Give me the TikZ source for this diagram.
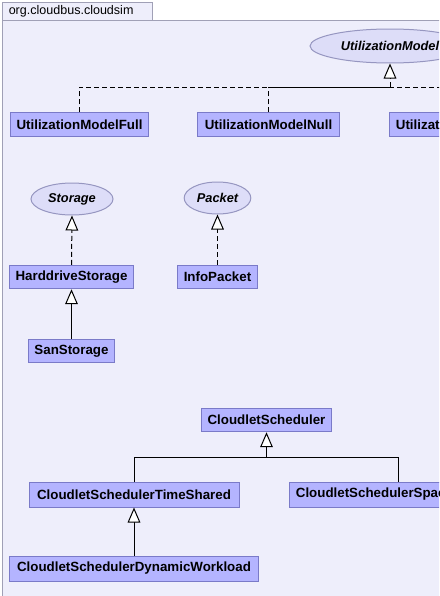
\documentclass[tikz,border=0pt]{standalone}
\usepackage{fontspec}
\setmainfont{Liberation Sans}
\usepackage{xcolor}
\usetikzlibrary{arrows.meta, shapes.geometric}
\definecolor{pkgfill}{RGB}{238,238,251}
\definecolor{pkgline}{RGB}{160,160,182}
\definecolor{classfill}{RGB}{180,180,255}
\definecolor{classline}{RGB}{122,122,200}
\definecolor{ifacefill}{RGB}{221,221,248}
\definecolor{ifaceline}{RGB}{150,150,192}

\begin{document}
\begin{tikzpicture}[
  x=0.75pt, y=-0.75pt,
  classbox/.style={draw=classline, fill=classfill, line width=0.75pt,
    minimum height=17.6pt, inner xsep=4.8pt, inner ysep=0pt,
    font=\fontsize{10}{12}\selectfont\bfseries},
  iface/.style={ellipse, draw=ifaceline, fill=ifacefill, line width=0.75pt,
    inner sep=0pt, minimum height=24pt, font=\fontsize{9.6}{11}\selectfont\bfseries\itshape},
  realize/.style={-{Triangle[fill=white, length=11.25pt, width=9.5pt]}, line width=0.75pt,
    dash pattern=on 3.75pt off 2.25pt},
  extend/.style={-{Triangle[fill=white, length=11.25pt, width=9.5pt]}, line width=0.75pt},
  bus/.style={line width=0.75pt},
  busdash/.style={line width=0.75pt, dash pattern=on 3.75pt off 2.25pt},
]
\useasboundingbox (0,0) rectangle (439,596);
\clip (0,0) rectangle (439,596);
\fill[white] (0,0) rectangle (439,596);

% --- Package frame ---
\draw[pkgline, fill=pkgfill, line width=0.75pt] (2,20) rectangle (470,620);
\draw[pkgline, fill=pkgfill, line width=0.75pt] (2,2) rectangle (152,20);
\node[anchor=west, inner sep=0pt, font=\fontsize{9.4}{11}\selectfont] (pkgname) at (8.5,11.5) {org.cloudbus.cloudsim};

% --- Utilization models ---
\node[iface, minimum width=120pt, minimum height=25.5pt] (um) at (390,46) {UtilizationModel};
\node[classbox, minimum width=104pt] (umfull) at (79.5,124.5) {UtilizationModelFull};
\node[classbox, minimum width=106.5pt] (umnull) at (268.5,124.5) {UtilizationModelNull};
\node[classbox, anchor=west] (umstoch) at (389,124.5) {UtilizationModelStochastic};
\coordinate (umbus) at (390,87);

% --- Storage and packet ---
\node[iface, minimum width=61.5pt] (storage) at (72,199) {Storage};
\node[iface, minimum width=50pt] (packet) at (217.5,198) {Packet};
\node[classbox, minimum width=92pt] (hdstorage) at (71.5,277) {HarddriveStorage};
\node[classbox, minimum width=57.75pt] (infopacket) at (217.5,277) {InfoPacket};
\node[classbox, minimum width=63.75pt] (sanstorage) at (71.5,351) {SanStorage};

% --- Cloudlet schedulers ---
\node[classbox, minimum width=98pt] (cs) at (266.5,420) {CloudletScheduler};
\node[classbox, minimum width=157.5pt, minimum height=18.75pt] (csts) at (134,494.5) {CloudletSchedulerTimeShared};
\node[classbox, anchor=west, minimum height=18.75pt] (csss) at (289,494.5) {CloudletSchedulerSpaceShared};
\node[classbox, minimum width=186.75pt, minimum height=18.75pt] (csdw) at (134,568.5) {CloudletSchedulerDynamicWorkload};
\coordinate (csbus) at (266.5,457);

% --- Realizations ---
\draw[busdash] (umfull.north) |- (umbus);
\draw[busdash] (umnull.north) |- (umbus);
\draw[busdash] (umstoch.north) |- (umbus);
\draw[realize] (umbus) -- (um.south);
\draw[realize] (hdstorage.north) -- (storage.south);
\draw[realize] (infopacket.north) -- (packet.south);

% --- Generalizations ---
\draw[extend] (sanstorage.north) -- (hdstorage.south);
\draw[bus] (csts.north) |- (csbus);
\draw[bus] (csss.north -| 398,0) |- (csbus);
\draw[extend] (csbus) -- (cs.south);
\draw[extend] (csdw.north) -- (csts.south);

\end{tikzpicture}
\end{document}
